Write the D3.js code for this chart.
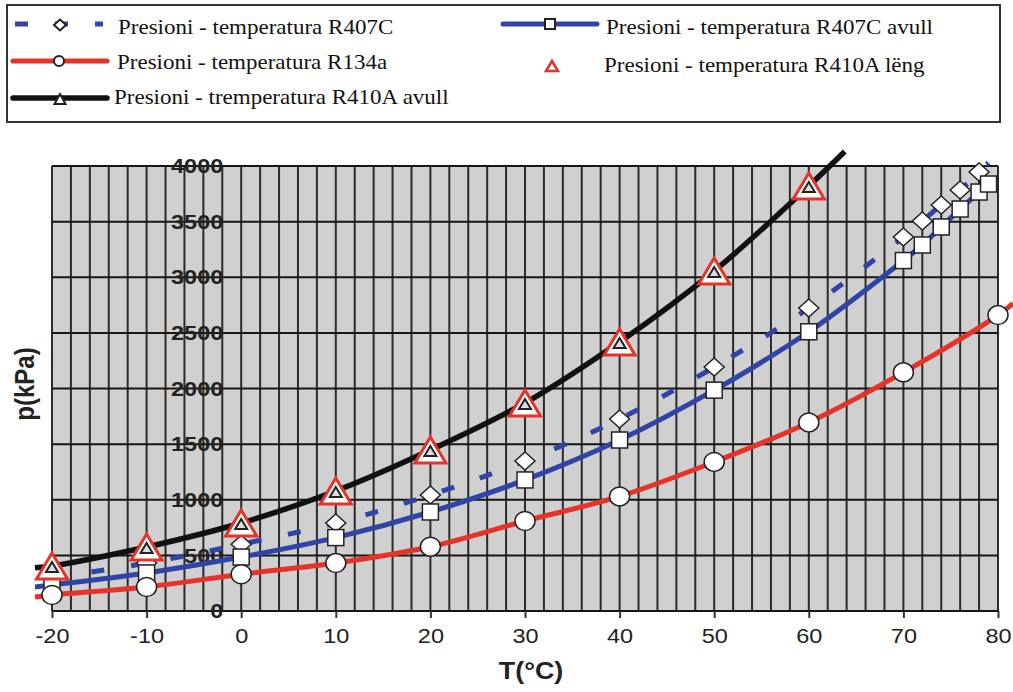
<!DOCTYPE html>
<html>
<head>
<meta charset="utf-8">
<script src="https://cdnjs.cloudflare.com/ajax/libs/d3/7.8.5/d3.min.js"></script>
<style>
  body { margin: 0; background: #fff; }
  svg { display: block; }
</style>
</head>
<body>
<svg id="chart"></svg>
<script>
// values: T in °C, p in kPa
const temps = [-20, -10, 0, 10, 20, 30, 40, 50, 60, 70, 80];
const r134a = [144, 216, 330, 431, 578, 809, 1030, 1340, 1695, 2145, 2660];
const r134aEnds = [[-21.8, 126], [81.6, 2765]];

const tempsR407C = [-20, -10, 0, 10, 20, 30, 40, 50, 60, 70, 72, 74, 76, 78];
const r407cLiq = [297, 431, 600, 791, 1043, 1348, 1726, 2193, 2724, 3362, 3506, 3650, 3784, 3946];
const r407cLiqEnd = [79, 4030];

const tempsR407CVap = [-20, -10, 0, 10, 20, 30, 40, 50, 60, 70, 72, 74, 76, 78, 79];
const r407cVap = [234, 342, 485, 660, 890, 1178, 1537, 1985, 2510, 3150, 3290, 3452, 3613, 3766, 3838];
const r407cVapStart = [-21.8, 216];

const tempsR410A = [-20, -10, 0, 10, 20, 30, 40, 50, 60];
const r410aLiq = [405, 575, 791, 1079, 1447, 1870, 2418, 3056, 3820];
const r410aVap = [405, 575, 791, 1079, 1447, 1870, 2418, 3056, 3820];
const r410aEnds = [[-21.8, 388], [63.8, 4130]];

const xTicks = [-20, -10, 0, 10, 20, 30, 40, 50, 60, 70, 80];
const yTicks = [0, 500, 1000, 1500, 2000, 2500, 3000, 3500, 4000];

const legendItems = [
  "Presioni - temperatura R407C",
  "Presioni - temperatura R407C avull",
  "Presioni - temperatura R134a",
  "Presioni - temperatura R410A lëng",
  "Presioni - tremperatura R410A avull"
];

const RED = "#e5332a", BLUE = "#2f44a6", BLACK = "#111";
const W = 1013, H = 692;
const SX = 1.12; // the picture is a bit wider than tall text would be

const svg = d3.select("#chart").attr("width", W).attr("height", H);

const x = d3.scaleLinear().domain([-20, 80]).range([52, 998]);
const y = d3.scaleLinear().domain([0, 4000]).range([611, 166]);

const zip = (ts, vs) => ts.map((t, i) => [t, vs[i]]);

// marker paths
function diamond(cx, cy, w, h) {
  return `M${cx},${cy - h / 2}L${cx + w / 2},${cy}L${cx},${cy + h / 2}L${cx - w / 2},${cy}Z`;
}
function triangle(cx, cy, w, h) {
  return `M${cx},${cy - h / 2}L${cx + w / 2},${cy + h / 2}L${cx - w / 2},${cy + h / 2}Z`;
}

// plot background + grid
const plot = svg.append("g");
plot.append("rect")
  .attr("x", x(-20)).attr("y", y(4000))
  .attr("width", x(80) - x(-20)).attr("height", y(0) - y(4000))
  .attr("fill", "#d0d0d0");

plot.append("g").selectAll("line")
  .data(d3.range(-20, 81, 2))
  .join("line")
  .attr("x1", d => x(d)).attr("x2", d => x(d))
  .attr("y1", y(0)).attr("y2", y(4000))
  .attr("stroke", "#2b2b2b").attr("stroke-width", 2);

plot.append("g").selectAll("line")
  .data(yTicks)
  .join("line")
  .attr("x1", x(-20)).attr("x2", x(80))
  .attr("y1", d => y(d)).attr("y2", d => y(d))
  .attr("stroke", "#161616").attr("stroke-width", 2);

// axes
const xAxis = svg.append("g")
  .attr("transform", `translate(0,${y(0)})`)
  .call(d3.axisBottom(x).tickValues(xTicks).tickFormat(d => String(d))
    .tickSize(7).tickPadding(10).tickSizeOuter(0));
xAxis.select(".domain").remove();
xAxis.selectAll(".tick line").attr("stroke", "#333").attr("stroke-width", 2);
xAxis.selectAll(".tick text")
  .attr("transform", `scale(${SX},1)`)
  .attr("font-family", "'Liberation Sans', Arial, sans-serif")
  .attr("font-size", 21).attr("fill", "#222");

const yAxis = svg.append("g")
  .attr("transform", `translate(${x(0)},0)`)
  .call(d3.axisLeft(y).tickValues(yTicks).tickFormat(d => String(d))
    .tickSize(0).tickPadding(16));
yAxis.select(".domain").remove();
yAxis.selectAll(".tick text")
  .attr("transform", `scale(${SX},1)`)
  .attr("font-family", "'Liberation Sans', Arial, sans-serif")
  .attr("font-weight", "bold")
  .attr("font-size", 21).attr("fill", "#222");

// axis titles
svg.append("text")
  .attr("transform", `translate(34,384) rotate(-90) scale(1,${SX})`)
  .attr("text-anchor", "middle")
  .attr("font-family", "'Liberation Sans', Arial, sans-serif")
  .attr("font-weight", "bold").attr("font-size", 24).attr("fill", "#222")
  .text("p(kPa)");

svg.append("text")
  .attr("transform", `translate(531,679) scale(${SX},1)`)
  .attr("text-anchor", "middle")
  .attr("font-family", "'Liberation Sans', Arial, sans-serif")
  .attr("font-weight", "bold").attr("font-size", 24).attr("fill", "#222")
  .text("T(°C)");

// lines
const line = d3.line().x(d => x(d[0])).y(d => y(d[1])).curve(d3.curveCatmullRom.alpha(0.5));

const lines = svg.append("g").attr("fill", "none").attr("stroke-linecap", "butt");
lines.append("path")
  .attr("d", line([...zip(tempsR407C, r407cLiq), r407cLiqEnd]))
  .attr("stroke", BLUE).attr("stroke-width", 5).attr("stroke-dasharray", "13,27");
lines.append("path")
  .attr("d", line([r407cVapStart, ...zip(tempsR407CVap, r407cVap)]))
  .attr("stroke", BLUE).attr("stroke-width", 5);
lines.append("path")
  .attr("d", line([r134aEnds[0], ...zip(temps, r134a), r134aEnds[1]]))
  .attr("stroke", RED).attr("stroke-width", 5);
lines.append("path")
  .attr("d", line([r410aEnds[0], ...zip(tempsR410A, r410aVap), r410aEnds[1]]))
  .attr("stroke", BLACK).attr("stroke-width", 5.5);

// markers
const marks = svg.append("g");
marks.append("g").selectAll("path")
  .data(zip(tempsR407C, r407cLiq))
  .join("path")
  .attr("d", d => diamond(x(d[0]), y(d[1]), 20, 18))
  .attr("fill", "#fff").attr("stroke", "#222").attr("stroke-width", 1.5);

marks.append("g").selectAll("rect")
  .data(zip(tempsR407CVap, r407cVap))
  .join("rect")
  .attr("x", d => x(d[0]) - 8).attr("y", d => y(d[1]) - 8)
  .attr("width", 16).attr("height", 16)
  .attr("fill", "#fff").attr("stroke", "#222").attr("stroke-width", 1.5);

marks.append("g").selectAll("ellipse")
  .data(zip(temps, r134a))
  .join("ellipse")
  .attr("cx", d => x(d[0])).attr("cy", d => y(d[1]))
  .attr("rx", 10).attr("ry", 9.5)
  .attr("fill", "#fff").attr("stroke", "#222").attr("stroke-width", 1.5);

marks.append("g").selectAll("path")
  .data(zip(tempsR410A, r410aLiq))
  .join("path")
  .attr("d", d => triangle(x(d[0]), y(d[1]), 31, 26))
  .attr("fill", "#fff").attr("stroke", RED).attr("stroke-width", 3).attr("stroke-linejoin", "miter");

marks.append("g").selectAll("path")
  .data(zip(tempsR410A, r410aVap))
  .join("path")
  .attr("d", d => triangle(x(d[0]), y(d[1]) + 1, 12, 10))
  .attr("fill", "#ddd").attr("stroke", "#222").attr("stroke-width", 2);

// legend
const lg = svg.append("g");
lg.append("rect")
  .attr("x", 7).attr("y", 5).attr("width", 993).attr("height", 117)
  .attr("fill", "#fff").attr("stroke", "#333").attr("stroke-width", 2);

const legendPos = [
  { sx: 13, sy: 24, tx: 118, ty: 34 },
  { sx: 503, sy: 24, tx: 606, ty: 34 },
  { sx: 13, sy: 61, tx: 117, ty: 69 },
  { sx: 503, sy: 66, tx: 604, ty: 72 },
  { sx: 13, sy: 98, tx: 114, ty: 104 }
];

legendItems.forEach((label, i) => {
  const p = legendPos[i];
  const g = lg.append("g");
  const mx = p.sx + 47;
  if (i === 0) {
    g.append("line").attr("x1", p.sx + 2).attr("x2", p.sx + 90).attr("y1", p.sy).attr("y2", p.sy)
      .attr("stroke", BLUE).attr("stroke-width", 5).attr("stroke-dasharray", "13,27");
    g.append("path").attr("d", diamond(mx, p.sy + 1, 12, 11))
      .attr("fill", "#fff").attr("stroke", "#222").attr("stroke-width", 2);
  } else if (i === 1) {
    g.append("line").attr("x1", p.sx).attr("x2", p.sx + 94).attr("y1", p.sy).attr("y2", p.sy)
      .attr("stroke", BLUE).attr("stroke-width", 5).attr("stroke-linecap", "round");
    g.append("rect").attr("x", mx - 5).attr("y", p.sy - 5).attr("width", 10).attr("height", 10)
      .attr("fill", "#fff").attr("stroke", "#222").attr("stroke-width", 2);
  } else if (i === 2) {
    g.append("line").attr("x1", p.sx).attr("x2", p.sx + 94).attr("y1", p.sy).attr("y2", p.sy)
      .attr("stroke", RED).attr("stroke-width", 5).attr("stroke-linecap", "round");
    g.append("circle").attr("cx", mx - 1).attr("cy", p.sy).attr("r", 5)
      .attr("fill", "#fff").attr("stroke", "#222").attr("stroke-width", 2);
  } else if (i === 3) {
    g.append("path").attr("d", triangle(p.sx + 49, p.sy, 12, 10))
      .attr("fill", "#fff").attr("stroke", RED).attr("stroke-width", 2.5);
  } else {
    g.append("line").attr("x1", p.sx).attr("x2", p.sx + 94).attr("y1", p.sy).attr("y2", p.sy)
      .attr("stroke", BLACK).attr("stroke-width", 5.5).attr("stroke-linecap", "round");
    g.append("path").attr("d", triangle(mx, p.sy + 1, 11, 10))
      .attr("fill", "#fff").attr("stroke", "#222").attr("stroke-width", 2);
  }
  g.append("text")
    .attr("transform", `translate(${p.tx},${p.ty}) scale(1.15,1)`)
    .attr("font-family", "'Liberation Serif', 'Times New Roman', serif")
    .attr("font-size", 20).attr("fill", "#111")
    .text(label);
});
</script>
</body>
</html>
